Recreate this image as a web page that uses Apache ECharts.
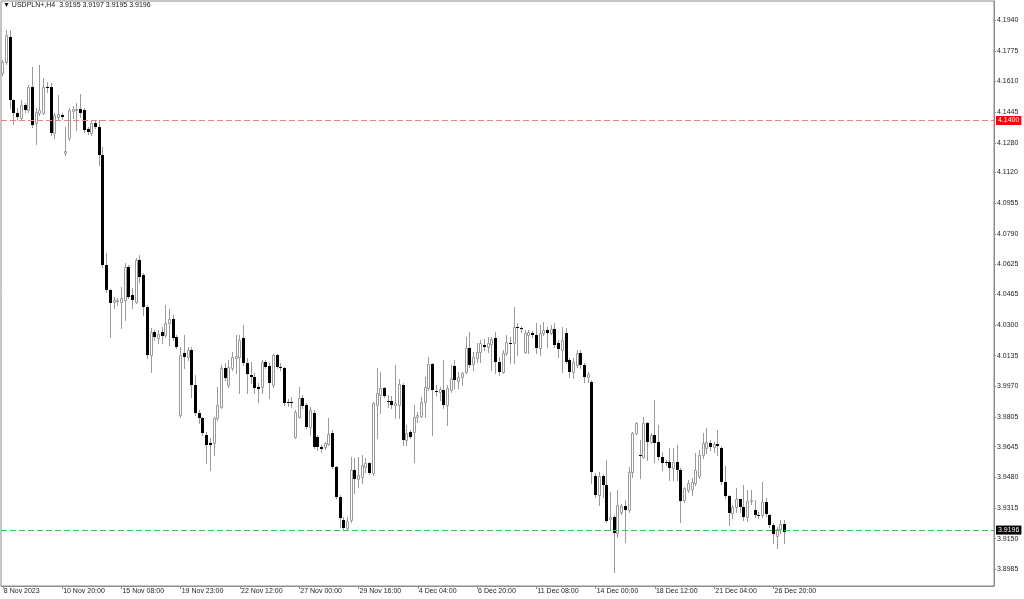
<!DOCTYPE html>
<html><head><meta charset="utf-8">
<script src="https://cdn.jsdelivr.net/npm/echarts@6/dist/echarts.min.js"></script>
<style>html,body{margin:0;padding:0;background:#fff}#c{width:1024px;height:599px}</style>
</head><body><div id="c"></div>
<script>
const symbolName = 'USDPLN+';
const timeframe = 'H4';
const xTickLabels = ['8 Nov 2023','10 Nov 20:00','15 Nov 08:00','19 Nov 23:00','22 Nov 12:00','27 Nov 00:00','29 Nov 16:00','4 Dec 04:00','6 Dec 20:00','11 Dec 08:00','14 Dec 00:00','18 Dec 12:00','21 Dec 04:00','26 Dec 20:00'];
const barsPerLabel = 16;
const yTickValues = [4.1940,4.1775,4.1610,4.1445,4.1280,4.1120,4.0955,4.0790,4.0625,4.0465,4.0300,4.0135,3.9970,3.9805,3.9645,3.9480,3.9315,3.9150,3.8985];
const levelLine = 4.1400;

const openPrices = [4.1655,4.1714,4.1849,4.1510,4.1440,4.1413,4.1483,4.1456,4.1580,4.1386,4.1440,4.1440,4.1580,4.1580,4.1332,4.1418,4.1429,4.1225,4.1306,4.1451,4.1456,4.1462,4.1456,4.1354,4.1332,4.1386,4.1365,4.1214,4.0622,4.0488,
4.0423,4.0429,4.0423,4.0434,4.0611,4.0461,4.0423,4.0649,4.0568,4.0396,4.0138,4.0262,4.0230,4.0262,4.0246,4.0310,4.0332,4.0235,3.9815,4.0149,4.0127,4.0165,3.9977,3.9826,3.9799,3.9708,3.9665,3.9665,3.9799,3.9858,
4.0068,3.9977,4.0068,4.0122,4.0127,4.0230,4.0095,4.0030,4.0020,3.9966,3.9966,4.0100,4.0079,3.9977,4.0138,4.0073,4.0068,3.9885,3.9885,3.9697,3.9804,3.9907,3.9869,3.9751,3.9826,3.9697,3.9643,3.9643,3.9659,3.9718,
3.9535,3.9374,3.9250,3.9207,3.9250,3.9519,3.9471,3.9482,3.9535,3.9557,3.9503,3.9869,3.9923,3.9961,3.9891,3.9891,3.9869,3.9869,3.9977,3.9681,3.9724,3.9724,3.9804,3.9810,3.9885,3.9961,4.0090,3.9945,3.9939,3.9950,
3.9869,3.9950,4.0079,3.9998,4.0020,4.0047,4.0176,4.0090,4.0122,4.0154,4.0192,4.0181,4.0197,4.0230,4.0100,4.0046,4.0149,4.0203,4.0203,4.0289,4.0283,4.0154,4.0246,4.0256,4.0246,4.0176,4.0256,4.0273,4.0256,4.0278,
4.0203,4.0165,4.0256,4.0111,4.0046,4.0084,4.0149,4.0084,4.0020,3.9993,3.9487,3.9385,3.9487,3.9439,3.9256,3.9266,3.9180,3.9294,3.9326,3.9304,3.9509,3.9718,3.9600,3.9589,3.9772,3.9670,3.9708,3.9670,3.9589,3.9562,
3.9562,3.9530,3.9562,3.9519,3.9358,3.9412,3.9417,3.9450,3.9487,3.9600,3.9638,3.9665,3.9643,3.9659,3.9638,3.9455,3.9380,3.9288,3.9320,3.9363,3.9320,3.9266,3.9353,3.9304,3.9277,3.9277,3.9347,3.9277,3.9224,3.9164,
3.9202,3.9229,3.9195];
const highPrices = [4.1725,4.1887,4.1887,4.1515,4.1467,4.1510,4.1494,4.1591,4.1687,4.1467,4.1698,4.1628,4.1607,4.1601,4.1440,4.1537,4.1440,4.1365,4.1467,4.1478,4.1494,4.1542,4.1467,4.1365,4.1397,4.1402,4.1402,4.1257,4.0687,4.0493,
4.0450,4.0445,4.0504,4.0633,4.0622,4.0499,4.0660,4.0676,4.0579,4.0407,4.0283,4.0273,4.0273,4.0289,4.0407,4.0386,4.0353,4.0246,4.0181,4.0246,4.0181,4.0181,4.0030,3.9842,3.9804,3.9724,3.9692,3.9804,3.9966,4.0084,
4.0095,4.0111,4.0154,4.0246,4.0246,4.0299,4.0122,4.0100,4.0041,3.9987,4.0111,4.0111,4.0095,4.0143,4.0143,4.0095,4.0073,3.9901,3.9912,3.9842,3.9966,3.9923,3.9880,3.9858,3.9842,3.9708,3.9654,3.9670,3.9799,3.9735,
3.9541,3.9385,3.9266,3.9266,3.9589,3.9584,3.9589,3.9600,3.9584,3.9562,3.9885,4.0068,4.0047,3.9966,3.9923,3.9918,4.0084,4.0009,3.9987,3.9762,3.9735,3.9869,3.9831,3.9912,4.0020,4.0127,4.0095,3.9977,3.9966,4.0111,
3.9977,4.0084,4.0111,4.0047,4.0047,4.0235,4.0262,4.0154,4.0203,4.0219,4.0224,4.0235,4.0235,4.0262,4.0127,4.0165,4.0246,4.0235,4.0396,4.0310,4.0294,4.0273,4.0273,4.0267,4.0310,4.0299,4.0316,4.0289,4.0299,4.0310,
4.0219,4.0289,4.0283,4.0122,4.0122,4.0165,4.0165,4.0095,4.0047,4.0004,3.9503,3.9509,3.9498,3.9573,3.9401,3.9277,3.9412,3.9337,3.9358,3.9535,3.9724,3.9778,3.9681,3.9804,3.9778,3.9718,3.9896,3.9762,3.9616,3.9573,
3.9638,3.9638,3.9654,3.9530,3.9428,3.9466,3.9476,3.9611,3.9627,3.9718,3.9745,3.9681,3.9670,3.9735,3.9648,3.9541,3.9385,3.9331,3.9423,3.9365,3.9439,3.9412,3.9412,3.9358,3.9293,3.9455,3.9369,3.9283,3.9234,3.9213,
3.9250,3.9250,3.9197];
const lowPrices = [4.1644,4.1703,4.1467,4.1380,4.1402,4.1402,4.1445,4.1445,4.1364,4.1273,4.1429,4.1434,4.1553,4.1322,4.1306,4.1402,4.1408,4.1214,4.1295,4.1413,4.1349,4.1418,4.1338,4.1327,4.1322,4.1359,4.1160,4.0611,4.0477,4.0235,
4.0391,4.0407,4.0283,4.0326,4.0445,4.0391,4.0418,4.0531,4.0353,4.0122,4.0046,4.0219,4.0203,4.0203,4.0235,4.0192,4.0219,4.0176,3.9805,4.0068,4.0111,3.9912,3.9815,3.9772,3.9708,3.9557,3.9519,3.9600,3.9788,3.9853,
4.0004,3.9966,4.0057,4.0041,3.9934,4.0084,3.9934,3.9987,3.9934,3.9885,3.9934,4.0068,3.9907,3.9966,4.0068,4.0057,3.9869,3.9864,3.9858,3.9692,3.9799,3.9853,3.9745,3.9708,3.9638,3.9627,3.9616,3.9632,3.9654,3.9530,
3.9369,3.9213,3.9197,3.9197,3.9240,3.9396,3.9428,3.9450,3.9509,3.9498,3.9493,3.9692,3.9826,3.9912,3.9858,3.9853,3.9799,3.9799,3.9654,3.9654,3.9692,3.9562,3.9778,3.9804,3.9804,3.9950,3.9708,3.9923,3.9896,3.9853,
3.9762,3.9939,3.9961,3.9961,3.9977,4.0041,4.0073,4.0057,4.0100,4.0100,4.0165,4.0154,4.0057,4.0041,4.0030,4.0041,4.0138,4.0095,4.0095,4.0138,4.0262,4.0149,4.0149,4.0235,4.0149,4.0138,4.0246,4.0181,4.0251,4.0181,
4.0127,4.0046,4.0095,4.0020,4.0014,4.0073,4.0068,3.9993,3.9993,3.9450,3.9374,3.9331,3.9374,3.9240,3.9197,3.8971,3.9159,3.9283,3.9132,3.9294,3.9482,3.9713,3.9476,3.9584,3.9573,3.9665,3.9562,3.9573,3.9519,3.9546,
3.9466,3.9466,3.9466,3.9240,3.9347,3.9401,3.9385,3.9439,3.9476,3.9584,3.9611,3.9627,3.9616,3.9600,3.9444,3.9369,3.9224,3.9261,3.9294,3.9294,3.9250,3.9245,3.9337,3.9266,3.9261,3.9266,3.9272,3.9213,3.9127,3.9100,
3.9180,3.9127,3.9195];
const closePrices = [4.1714,4.1860,4.1510,4.1440,4.1418,4.1483,4.1456,4.1580,4.1375,4.1445,4.1456,4.1580,4.1575,4.1332,4.1429,4.1434,4.1418,4.1236,4.1456,4.1462,4.1462,4.1440,4.1349,4.1338,4.1386,4.1365,4.1214,4.0622,4.0488,4.0418,
4.0434,4.0434,4.0445,4.0611,4.0450,4.0434,4.0649,4.0558,4.0396,4.0138,4.0262,4.0235,4.0251,4.0240,4.0310,4.0332,4.0230,4.0181,4.0138,4.0127,4.0165,3.9977,3.9826,3.9799,3.9718,3.9654,3.9654,3.9799,3.9869,4.0068,
4.0014,4.0073,4.0127,4.0133,4.0219,4.0095,4.0036,4.0020,3.9961,3.9955,4.0100,4.0073,3.9987,4.0138,4.0073,4.0068,3.9880,3.9880,3.9883,3.9832,3.9907,3.9864,3.9751,3.9842,3.9643,3.9643,3.9632,3.9665,3.9713,3.9535,
3.9374,3.9261,3.9207,3.9245,3.9519,3.9471,3.9493,3.9546,3.9557,3.9503,3.9880,3.9934,3.9961,3.9918,3.9885,3.9869,3.9880,3.9982,3.9681,3.9718,3.9697,3.9804,3.9815,3.9885,3.9966,4.0090,3.9950,3.9943,3.9955,3.9869,
3.9961,4.0014,4.0004,4.0020,4.0041,4.0176,4.0084,4.0127,4.0154,4.0203,4.0181,4.0203,4.0224,4.0100,4.0046,4.0149,4.0208,4.0197,4.0289,4.0283,4.0281,4.0256,4.0262,4.0246,4.0176,4.0256,4.0273,4.0256,4.0278,4.0192,
4.0170,4.0219,4.0100,4.0046,4.0100,4.0149,4.0084,4.0020,4.0036,3.9509,3.9385,3.9487,3.9439,3.9245,3.9266,3.9180,3.9331,3.9326,3.9304,3.9509,3.9718,3.9772,3.9598,3.9772,3.9670,3.9708,3.9665,3.9589,3.9557,3.9560,
3.9530,3.9562,3.9519,3.9353,3.9423,3.9450,3.9455,3.9519,3.9600,3.9665,3.9670,3.9643,3.9659,3.9648,3.9455,3.9380,3.9288,3.9320,3.9363,3.9320,3.9266,3.9353,3.9356,3.9277,3.9272,3.9347,3.9283,3.9224,3.9175,3.9202,
3.9229,3.9186,3.9196];

const totalSlots = 268;            // bars + empty right shift area
const FONT = 'Liberation Sans';
const WICK = '#9a9a9a';
const FRAME = '#8c8c8c';

const n = openPrices.length;
const last = n - 1;
const bidLine = closePrices[last];
const categories = Array.from({length: totalSlots}, (_, i) => String(i));
const candles = openPrices.map((o, i) => [i, o, closePrices[i], lowPrices[i], highPrices[i]]);
const isLabelSlot = (idx) => idx % barsPerLabel === 0 && idx / barsPerLabel < xTickLabels.length;
const f4 = v => v.toFixed(4);
const titleText = '\u25BC ' + symbolName + ',' + timeframe + '  ' +
  [openPrices[last], highPrices[last], lowPrices[last], closePrices[last]].map(f4).join(' ');

function renderCandle(params, api) {
  const i = api.value(0), o = api.value(1), c = api.value(2), l = api.value(3), h = api.value(4);
  const pO = api.coord([i, o]);
  const x = Math.floor(pO[0]);
  const yO = pO[1], yC = api.coord([i, c])[1];
  const yL = Math.round(api.coord([i, l])[1]), yH = Math.round(api.coord([i, h])[1]);
  const top = Math.round(Math.min(yO, yC)), bot = Math.round(Math.max(yO, yC));
  const wick = { type: 'line', shape: { x1: x + 0.5, y1: yH, x2: x + 0.5, y2: yL + 1 }, style: { stroke: WICK, lineWidth: 1 } };
  let body;
  if (c >= o) {
    body = { type: 'rect', shape: { x: x - 0.5, y: top + 0.5, width: 2, height: Math.max(bot - top, 0) }, style: { fill: '#fff', stroke: WICK, lineWidth: 1 } };
  } else {
    body = { type: 'rect', shape: { x: x - 1, y: top, width: 3, height: Math.max(bot - top, 1) }, style: { fill: '#000' } };
  }
  return { type: 'group', children: [wick, body] };
}

const chart = echarts.init(document.getElementById('c'), null, { renderer: 'canvas' });
chart.setOption({
  animation: false,
  backgroundColor: '#fff',
  title: { text: titleText, left: 3, top: 2, padding: 0, textStyle: { fontSize: 7, fontWeight: 'normal', color: '#111', fontFamily: FONT } },
  grid: { left: 1, right: 30, top: 1, bottom: 13, show: true, borderColor: FRAME, borderWidth: 1, backgroundColor: 'transparent' },
  xAxis: {
    type: 'category', data: categories, boundaryGap: true,
    axisLine: { show: true, lineStyle: { color: FRAME } },
    axisTick: { show: true, alignWithLabel: true, length: 3, interval: isLabelSlot, lineStyle: { color: FRAME } },
    axisLabel: { interval: isLabelSlot, formatter: (v, idx) => xTickLabels[Math.round(idx / barsPerLabel)] || '', align: 'left', margin: 2, fontSize: 7, color: '#222', fontFamily: FONT, padding: [0, 0, 0, 1] },
    splitLine: { show: false }
  },
  yAxis: {
    type: 'value', position: 'right', min: 3.8895, max: 4.2043,
    splitLine: { show: false },
    axisLine: { show: true, lineStyle: { color: FRAME } },
    axisTick: { show: true, length: 2, customValues: yTickValues, lineStyle: { color: FRAME } },
    axisLabel: { customValues: yTickValues, formatter: f4, color: '#222', fontSize: 7, margin: 3, fontFamily: FONT }
  },
  series: [{
    type: 'custom', name: symbolName, renderItem: renderCandle, data: candles,
    encode: { x: 0, y: [1, 2, 3, 4] }, clip: true,
    markLine: {
      silent: true, symbol: ['none', 'none'], animation: false, precision: 4,
      label: { show: true, position: 'end', distance: 2, fontSize: 7, fontFamily: FONT, color: '#fff', padding: [1, 2, 0, 2], lineHeight: 8 },
      data: [
        { name: 'level', yAxis: levelLine, lineStyle: { color: '#f27f7f', type: [6, 3], width: 1, opacity: 1 }, label: { formatter: f4(levelLine), backgroundColor: '#ff0000' } },
        { name: 'bid', yAxis: bidLine, lineStyle: { color: '#3cc83c', type: [6, 3], width: 1.2, opacity: 1 }, label: { formatter: f4(bidLine), backgroundColor: '#000000' } }
      ]
    }
  }]
});
</script>
</body></html>
